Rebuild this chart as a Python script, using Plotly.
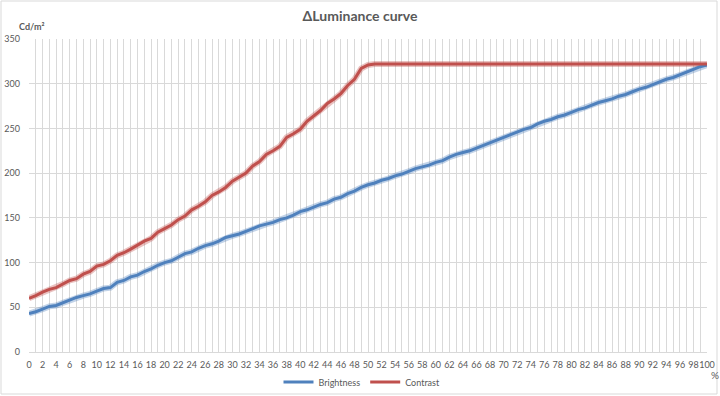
import plotly.graph_objects as go

percent = list(range(0, 101))

brightness = [
    43, 45, 48, 51, 52, 55, 58, 61, 63, 65,
    68, 71, 72, 78, 80, 84, 86, 90, 93, 97,
    100, 102, 106, 110, 112, 116, 119, 121, 124, 128,
    130, 132, 135, 138, 141, 143, 145, 148, 150, 153,
    157, 159, 162, 165, 167, 171, 173, 177, 180, 184,
    187, 189, 192, 194, 197, 199, 202, 205, 207, 209,
    212, 214, 218, 221, 223, 225, 228, 231, 234, 237,
    240, 243, 246, 249, 251, 255, 258, 260, 263, 265,
    268, 271, 273, 276, 279, 281, 283, 286, 288, 291,
    294, 296, 299, 302, 305, 307, 310, 313, 316, 319,
    321,
]

contrast = [
    60, 63, 67, 70, 72, 76, 80, 82, 87, 90,
    96, 98, 102, 108, 111, 115, 120, 124, 127, 134,
    138, 142, 148, 152, 159, 163, 168, 175, 179, 184,
    191, 196, 200, 208, 213, 221, 225, 230, 240, 244,
    249, 258, 264, 270, 278, 283, 289, 298, 305, 317,
    321, 322, 322, 322, 322, 322, 322, 322, 322, 322,
    322, 322, 322, 322, 322, 322, 322, 322, 322, 322,
    322, 322, 322, 322, 322, 322, 322, 322, 322, 322,
    322, 322, 322, 322, 322, 322, 322, 322, 322, 322,
    322, 322, 322, 322, 322, 322, 322, 322, 322, 322,
    322,
]

x_ticks = list(range(0, 101, 2))
y_ticks = list(range(0, 351, 50))

BLUE = "#4F81BD"
RED = "#C0504D"
TXT = "#595959"
GRID = "#D9D9D9"
FONT = "Lato"

fig = go.Figure()
# soft glow underneath (Excel-style shadow)
for vals, col in ((brightness, "rgba(79,129,189,0.35)"), (contrast, "rgba(192,80,77,0.35)")):
    fig.add_trace(go.Scatter(x=percent, y=vals, mode="lines", showlegend=False,
                             hoverinfo="skip", line=dict(color=col, width=6)))
fig.add_trace(go.Scatter(x=percent, y=brightness, mode="lines", name="Brightness",
                         line=dict(color=BLUE, width=3)))
fig.add_trace(go.Scatter(x=percent, y=contrast, mode="lines", name="Contrast",
                         line=dict(color=RED, width=3)))

L, R, T, B = 29, 13, 39, 44
W, H = 720, 396
pw, ph = W - L - R, H - T - B

fig.update_layout(
    width=W, height=H,
    margin=dict(l=L, r=R, t=T, b=B, autoexpand=False),
    paper_bgcolor="white", plot_bgcolor="white",
    font=dict(family=FONT, color=TXT, size=9),
    title=dict(text="<b>ΔLuminance curve</b>", x=0.5, xanchor="center",
               y=1 - 16 / H, yanchor="middle",
               font=dict(family=FONT, size=14, color=TXT)),
    showlegend=True,
    legend=dict(orientation="h", x=(362 - L) / pw, xanchor="center",
                y=-(382 - (H - B)) / ph,
                yanchor="middle", font=dict(family=FONT, size=9, color=TXT),
                itemwidth=30, bgcolor="rgba(0,0,0,0)"),
    xaxis=dict(range=[0, 100], tickmode="array", tickvals=x_ticks,
               ticktext=[str(v) for v in x_ticks], showgrid=True, gridcolor=GRID,
               gridwidth=1, minor=dict(dtick=1, showgrid=True, gridcolor=GRID, gridwidth=1),
               zeroline=False, showline=True, linecolor=GRID, linewidth=1,
               automargin=False, ticks="", ticklabelstandoff=4,
               tickfont=dict(family=FONT, size=9, color=TXT), tickangle=0),
    yaxis=dict(range=[0, 350], tickmode="array", tickvals=y_ticks,
               showgrid=True, gridcolor=GRID, gridwidth=1, zeroline=False,
               showline=False, ticks="", ticklabelstandoff=8, automargin=False,
               tickfont=dict(family=FONT, size=9, color=TXT)),
    annotations=[
        dict(text="<b>Cd/m²</b>", xref="paper", yref="paper",
             x=(31 - L) / pw, y=1 + (T - 27) / ph, xanchor="center", yanchor="middle",
             showarrow=False, font=dict(family=FONT, size=9, color=TXT)),
        dict(text="%", xref="paper", yref="paper",
             x=1 + (715 - (W - R)) / pw, y=-(375 - (H - B)) / ph,
             xanchor="center", yanchor="middle",
             showarrow=False, font=dict(family=FONT, size=10, color=TXT)),
    ],
    shapes=[
        dict(type="rect", xref="paper", yref="paper",
             x0=-(L - 1) / pw, x1=1 + (R - 3) / pw,
             y0=-(B - 2) / ph, y1=1 + (T - 1) / ph,
             line=dict(color=GRID, width=1), fillcolor="rgba(0,0,0,0)", layer="below"),
    ],
)

fig.write_html("out.html", config={"displayModeBar": False},
               post_script="document.body.style.margin='0';document.body.style.padding='0';")
